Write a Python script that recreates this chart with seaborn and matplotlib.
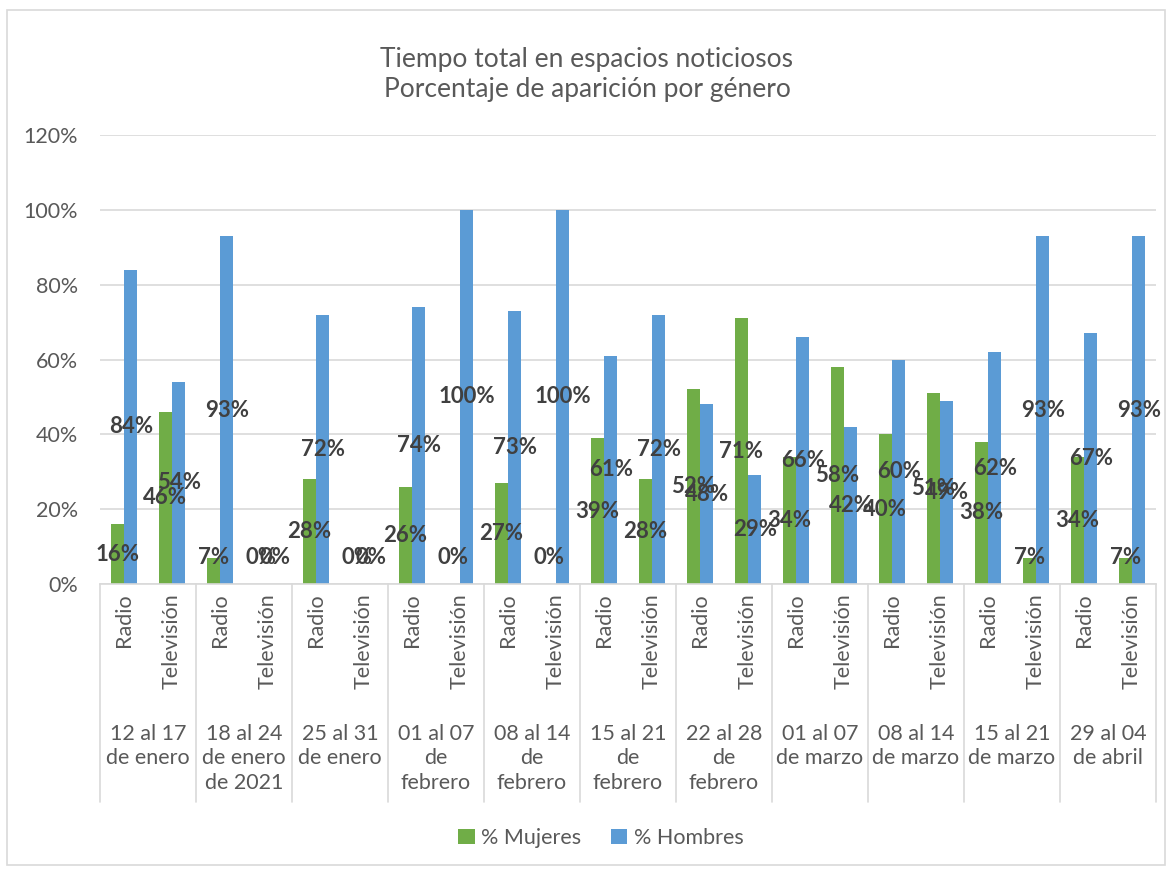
import matplotlib
matplotlib.use("Agg")
import matplotlib.pyplot as plt
import matplotlib.transforms as mtransforms
from matplotlib.patches import Rectangle
import seaborn as sns
import pandas as pd

# data
groups = ["12 al 17\nde enero", "18 al 24\nde enero\nde 2021", "25 al 31\nde enero",
          "01 al 07\nde\nfebrero", "08 al 14\nde\nfebrero", "15 al 21\nde\nfebrero",
          "22 al 28\nde\nfebrero", "01 al 07\nde marzo", "08 al 14\nde marzo",
          "15 al 21\nde marzo", "29 al 04\nde abril"]
medios = ["Radio", "Televisión"]
radio_mujeres = [16, 7, 28, 26, 27, 39, 52, 34, 40, 38, 34]
radio_hombres = [84, 93, 72, 74, 73, 61, 48, 66, 60, 62, 67]
tv_mujeres = [46, 0, 0, 0, 0, 28, 71, 58, 51, 7, 7]
tv_hombres = [54, 0, 0, 100, 100, 72, 29, 42, 49, 93, 93]
series = ["% Mujeres", "% Hombres"]
colores = ["#70AD47", "#5B9BD5"]

rows = []
for g in range(len(groups)):
    for m, (muj, hom) in enumerate([(radio_mujeres, radio_hombres), (tv_mujeres, tv_hombres)]):
        slot = f"{g:02d}-{m}"
        rows.append({"slot": slot, "medio": medios[m], "serie": series[0], "valor": muj[g]})
        rows.append({"slot": slot, "medio": medios[m], "serie": series[1], "valor": hom[g]})
df = pd.DataFrame(rows)

sns.set_style("white")
plt.rcParams["font.family"] = ["Lato", "DejaVu Sans"]

W, H = 1172, 872
fig = plt.figure(figsize=(W / 100, H / 100), dpi=100)
ax = fig.add_axes([100 / W, 1 - 584 / H, (1156 - 100) / W, (584 - 135) / H])

sns.barplot(data=df, x="slot", y="valor", hue="serie", palette=colores,
            hue_order=series, width=0.56, saturation=1, linewidth=0, ax=ax)

ax.set_ylim(0, 120)
ax.set_xlim(-0.5, len(groups) * 2 - 0.5)
ax.set_yticks(range(0, 121, 20))
ax.set_yticklabels([f"{v}%" for v in range(0, 121, 20)])
ax.grid(axis="y", color="#D9D9D9", linewidth=1.2)
ax.set_axisbelow(True)
for s in ["left", "right", "top"]:
    ax.spines[s].set_visible(False)
ax.spines["bottom"].set_color("#D9D9D9")
ax.spines["bottom"].set_linewidth(1.2)
ax.set_xlabel("")
ax.set_ylabel("")
ax.tick_params(axis="y", length=0, pad=16, labelsize=15.5, labelcolor="#595959")
ax.tick_params(axis="x", length=0, pad=7, labelsize=15.5, labelcolor="#595959")
ax.set_xticks(range(len(groups) * 2))
ax.set_xticklabels([medios[i % 2] for i in range(len(groups) * 2)], rotation=90, va="top")

# data labels in the middle of each bar
for cont in ax.containers:
    for bar in cont:
        h = bar.get_height()
        ax.text(bar.get_x() + bar.get_width() / 2, max(h / 2, 7.2), f"{h:.0f}%",
                ha="center", va="center", fontsize=16, fontweight="bold", color="#404040")

# multi-level category axis: separators and group names
trans = mtransforms.blended_transform_factory(ax.transData, ax.transAxes)
depth = (802 - 584) / (584 - 135)
for k in range(len(groups) + 1):
    xk = 2 * k - 0.5
    ax.plot([xk, xk], [0, -depth], transform=trans, color="#D9D9D9",
            linewidth=1.2, clip_on=False)
for g, name in enumerate(groups):
    ax.text(2 * g + 0.5, -(724 - 584) / (584 - 135), name, transform=trans,
            ha="center", va="top", fontsize=15.5, color="#595959", linespacing=1.27)

fig.text(587 / W, 1 - 74 / H, "Tiempo total en espacios noticiosos\nPorcentaje de aparición por género",
         ha="center", va="center", fontsize=19, color="#595959", linespacing=1.25)

handles, labels = ax.get_legend_handles_labels()
ax.legend(handles, labels, loc="center", bbox_to_anchor=(601 / W, 1 - 838 / H),
          bbox_transform=fig.transFigure, ncol=2, frameon=False, fontsize=15.5,
          handlelength=0.75, handleheight=0.75, handletextpad=0.3, columnspacing=1.4,
          labelcolor="#595959")

fig.patches.append(Rectangle((7 / W, 1 - 865 / H), (1165 - 7) / W, (865 - 10) / H,
                             transform=fig.transFigure, fill=False,
                             edgecolor="#D9D9D9", linewidth=1.2))

fig.savefig("out.png", dpi=100, facecolor="white")
